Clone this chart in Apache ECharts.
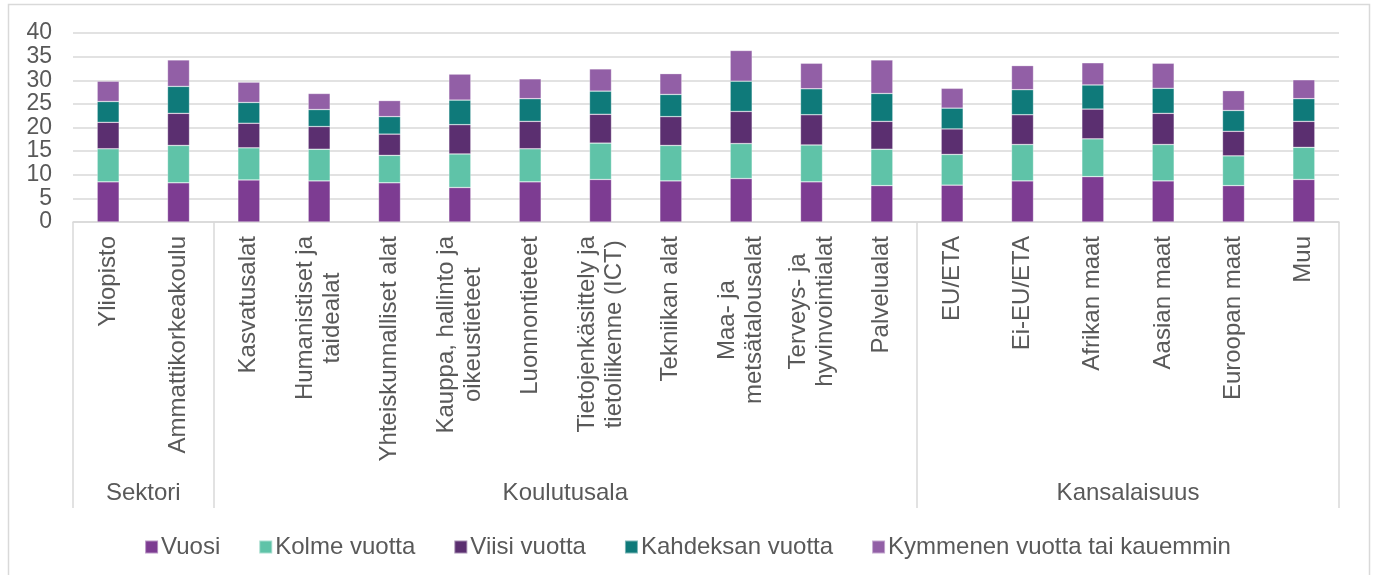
<!DOCTYPE html>
<html>
<head>
<meta charset="utf-8">
<script src="https://cdn.jsdelivr.net/npm/echarts@6/dist/echarts.min.js"></script>
<style>
  html, body { margin: 0; padding: 0; background: #fff; }
  #chart { width: 1375px; height: 575px; }
</style>
</head>
<body>
<div id="chart"></div>
<script>
const categories = [
  "Yliopisto",
  "Ammattikorkeakoulu",
  "Kasvatusalat",
  "Humanistiset ja\ntaidealat",
  "Yhteiskunnalliset alat",
  "Kauppa, hallinto ja\noikeustieteet",
  "Luonnontieteet",
  "Tietojenkäsittely ja\ntietoliikenne (ICT)",
  "Tekniikan alat",
  "Maa- ja\nmetsätalousalat",
  "Terveys- ja\nhyvinvointialat",
  "Palvelualat",
  "EU/ETA",
  "Ei-EU/ETA",
  "Afrikan maat",
  "Aasian maat",
  "Euroopan maat",
  "Muu"
];
const groupNames = ["Sektori", "Koulutusala", "Kansalaisuus"];
const groupSizes = [2, 10, 6];

const seriesNames = ["Vuosi", "Kolme vuotta", "Viisi vuotta", "Kahdeksan vuotta", "Kymmenen vuotta tai kauemmin"];
const vuosi = [8.5, 8.3, 8.9, 8.7, 8.3, 7.3, 8.5, 9.0, 8.7, 9.2, 8.5, 7.7, 7.8, 8.7, 9.6, 8.7, 7.7, 9.0];
const kolmeVuotta = [7.0, 7.9, 6.8, 6.7, 5.8, 7.1, 7.0, 7.7, 7.5, 7.4, 7.8, 7.7, 6.5, 7.7, 8.0, 7.7, 6.3, 6.8];
const viisiVuotta = [5.6, 6.8, 5.2, 4.8, 4.5, 6.2, 5.8, 6.1, 6.1, 6.8, 6.4, 5.9, 5.4, 6.3, 6.3, 6.6, 5.2, 5.5];
const kahdeksanVuotta = [4.4, 5.7, 4.4, 3.6, 3.7, 5.2, 4.8, 4.9, 4.7, 6.4, 5.5, 5.9, 4.4, 5.3, 5.1, 5.3, 4.4, 4.8];
const kymmenenVuotta = [4.3, 5.6, 4.3, 3.4, 3.4, 5.5, 4.2, 4.7, 4.4, 6.5, 5.4, 7.1, 4.2, 5.1, 4.7, 5.3, 4.2, 4.0];
const yTicks = [0, 5, 10, 15, 20, 25, 30, 35, 40];

const colors = ["#7d3c92", "#5fc3a8", "#5b2f70", "#0f7a7a", "#925fa6"];
const textColor = "#595959";
const lineColor = "#d9d9d9";
const font = "Liberation Sans, Arial, sans-serif";
const fs = 24;

// group boundaries and centres on a 0..n scale
let bounds = [0];
let centers = [];
groupSizes.forEach(function(s) {
  let start = bounds[bounds.length - 1];
  centers.push(start + s / 2);
  bounds.push(start + s);
});

const allData = [vuosi, kolmeVuotta, viisiVuotta, kahdeksanVuotta, kymmenenVuotta];
let series = [];
allData.map((d, i) => {
  series.push({
    name: seriesNames[i],
    type: "bar",
    stack: "total",
    barWidth: 22,
    xAxisIndex: 0,
    data: d,
    itemStyle: {
      color: colors[i],
      borderColor: "rgba(255,255,255,0.45)",
      borderWidth: 0.6
    }
  });
});

const option = {
  animation: false,
  color: colors,
  grid: {
    left: 73,
    right: 36,
    top: 33,
    bottom: 353,
    containLabel: false,
    outerBoundsMode: "none"
  },
  graphic: [{
    type: "rect",
    shape: { x: 8.5, y: 4.5, width: 1361, height: 600 },
    style: { fill: "none", stroke: lineColor, lineWidth: 1.5 },
    silent: true
  }],
  legend: {
    data: seriesNames,
    left: "center",
    top: 530,
    itemWidth: 13,
    itemHeight: 13,
    itemGap: 38,
    icon: "rect",
    textStyle: { color: textColor, fontSize: fs, fontFamily: font, padding: [0, 0, 0, -2] }
  },
  xAxis: [{
    type: "category",
    data: categories,
    position: "bottom",
    axisLine: { show: true, lineStyle: { color: lineColor, width: 1.5 } },
    axisTick: { show: false },
    axisLabel: {
      interval: 0,
      rotate: 90,
      margin: 14,
      formatter: function(v) {
        return v.split("\n").map(l => "{c|" + l + "}").join("\n");
      },
      rich: {
        c: { align: "center", fontSize: fs, lineHeight: 27, color: textColor, fontFamily: font }
      }
    },
    splitLine: { show: false }
  }, {
    type: "value",
    min: 0,
    max: categories.length,
    position: "bottom",
    axisLine: { show: false },
    splitLine: { show: false },
    axisTick: {
      show: true,
      customValues: bounds,
      length: 286,
      lineStyle: { color: lineColor, width: 1.5 }
    },
    axisLabel: {
      customValues: centers,
      margin: 259,
      color: textColor,
      fontSize: fs,
      fontFamily: font,
      formatter: function(v) {
        return groupNames[centers.indexOf(v)];
      }
    }
  }],
  yAxis: {
    type: "value",
    min: yTicks[0],
    max: yTicks[yTicks.length - 1],
    interval: 5,
    axisLine: { show: false },
    axisTick: { show: false },
    axisLabel: { color: textColor, fontSize: 23, fontFamily: font, margin: 21 },
    splitLine: { lineStyle: { color: lineColor, width: 1.5 } }
  },
  series: series
};

const container = document.getElementById("chart");
const myChart = echarts.init(container);
myChart.setOption(option);
</script>
</body>
</html>
